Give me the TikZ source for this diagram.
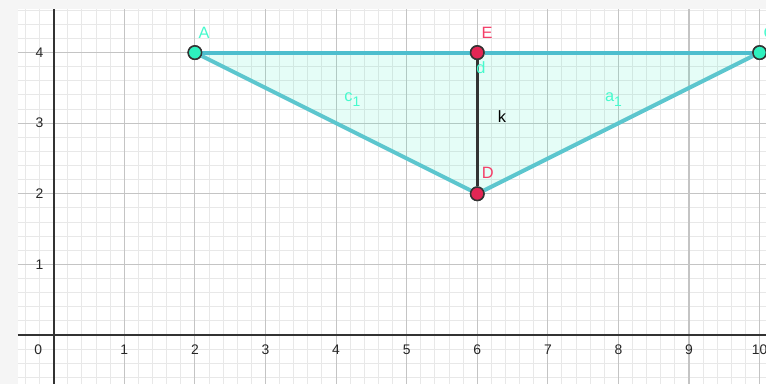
\documentclass[tikz,border=0pt]{standalone}
\usepackage{xcolor}
\usepackage{fontspec}
\setmainfont{Liberation Sans}
\usepackage{tikz}
\usetikzlibrary{positioning}

\definecolor{sideteal}{RGB}{92,198,206}
\definecolor{topteal}{RGB}{78,190,206}
\definecolor{ptgreen}{RGB}{46,240,190}
\definecolor{lblgreen}{RGB}{70,250,205}
\definecolor{ptred}{RGB}{226,38,84}
\definecolor{lblred}{RGB}{244,62,104}
\definecolor{minorgrid}{RGB}{232,232,232}
\definecolor{majorgrid}{RGB}{196,196,196}
\definecolor{paneedge}{RGB}{245,245,245}

\newcommand{\lowidx}[1]{\raisebox{-0.6ex}{\fontsize{5.6}{6}\selectfont #1}}

\tikzset{
  pt/.style={circle, draw=black!80, line width=0.6pt, inner sep=0pt, minimum size=1.9mm},
  lbl/.style={inner sep=0pt, font=\fontsize{6.6}{8}\selectfont},
  ticklbl/.style={inner sep=0pt, font=\fontsize{5.6}{6}\selectfont, text=black!85},
  side/.style={sideteal, line width=1.6pt},
}

\begin{document}
\begin{tikzpicture}

        % pane
        \fill[paneedge] (-0.761,-0.694) rectangle (10.09,4.745);
        \useasboundingbox (-0.761,-0.694) rectangle (10.09,4.745);
        \fill[white] (-0.507,-0.694) rectangle (10.09,4.618);
        \draw[minorgrid, line width=0.4pt, step=0.2] (-0.507,-0.694) grid (10.09,4.618);
        \draw[majorgrid, line width=0.45pt, step=1] (-0.507,-0.694) grid (10.09,4.618);
        \draw[black!80, line width=0.8pt] (-0.507,0) -- (10.09,0);
        \draw[black!80, line width=0.8pt] (0,-0.694) -- (0,4.618);

        \foreach \x in {1,...,10}
            \node[ticklbl] (xt\x) at (\x,-0.21) {\x};
        \foreach \y in {1,...,4}
            \node[ticklbl, anchor=east] (yt\y) at (-0.14,\y) {\y};
        \node[ticklbl] (xt0) at (-0.22,-0.21) {0};

        % points
        \node[pt, fill=ptgreen] (A) at (2,4) {};
        \node[pt, fill=ptgreen] (C) at (10,4) {};
        \node[pt, fill=ptred] (E) at (6,4) {};
        \node[pt, fill=ptred] (D) at (6,2) {};

        \fill[ptgreen, fill opacity=0.12] (A.center) -- (C.center) -- (D.center) -- cycle;

        \draw[side] (A) -- (D);
        \draw[side] (D) -- (C);
        \draw[topteal, line width=1.6pt] (A) -- (E);
        \draw[topteal, line width=1.6pt] (E) -- (C);
        \draw[black!80, line width=1.35pt] (E) -- (D);

        % redraw points on top
        \node[pt, fill=ptgreen] at (A) {};
        \node[pt, fill=ptgreen] at (C) {};
        \node[pt, fill=ptred] at (E) {};
        \node[pt, fill=ptred] at (D) {};

        % labels
        \node[lbl, text=lblgreen] (labA) [above=0.09 of A, xshift=0.13cm] {A};
        \node[lbl, text=lblgreen] (labC) [above=0.09 of C, xshift=0.14cm] {C};
        \node[lbl, text=lblred] (labE) [above=0.09 of E, xshift=0.14cm] {E};
        \node[lbl, text=lblred] (labD) [above=0.1 of D, xshift=0.15cm] {D};
        \node[lbl, text=lblgreen] (labc) at (4.23,3.34) {c\lowidx{1}};
        \node[lbl, text=lblgreen] (laba) at (7.93,3.34) {a\lowidx{1}};
        \node[lbl, text=lblgreen] (labd) at (6.05,3.78) {d};
        \node[lbl, text=black] (labk) at (6.35,3.10) {k};

\end{tikzpicture}
\end{document}
